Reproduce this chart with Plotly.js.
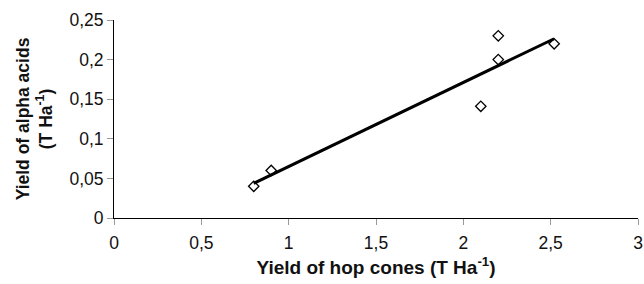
<!DOCTYPE html>
<html>
<head>
<meta charset="utf-8">
<script src="https://cdn.plot.ly/plotly-3.0.1.min.js"></script>
<style>html,body{margin:0;padding:0;background:#fff;}#chart{width:644px;height:284px;}</style>
</head>
<body>
<div id="chart"></div>
<script>
const hopYield = [0.8, 0.9, 2.1, 2.2, 2.2, 2.52];
const alphaYield = [0.04, 0.06, 0.141, 0.23, 0.2, 0.22];
const xTitle = 'Yield of hop cones (T Ha<sup>-1</sup>)';
const yTitle = 'Yield of alpha acids<br>(T Ha<sup>-1</sup>)';

// least-squares trendline from the data
const n = hopYield.length;
const mx = hopYield.reduce((a, b) => a + b, 0) / n;
const my = alphaYield.reduce((a, b) => a + b, 0) / n;
let sxy = 0, sxx = 0;
for (let i = 0; i < n; i++) { sxy += (hopYield[i] - mx) * (alphaYield[i] - my); sxx += (hopYield[i] - mx) ** 2; }
const slope = sxy / sxx, icpt = my - slope * mx;
const xMin = Math.min(...hopYield), xMax = Math.max(...hopYield);

const fam = 'Liberation Sans, Arial, sans-serif';
const tickFont = {family: fam, size: 17.5, color: '#111'};
const xTitleFont = {family: fam, size: 19, color: '#111', weight: 'bold'};
const yTitleFont = {family: fam, size: 17.5, color: '#111', weight: 'bold'};

Plotly.newPlot('chart', [
  {x: [xMin, xMax], y: [icpt + slope * xMin, icpt + slope * xMax], mode: 'lines',
   line: {color: '#000', width: 3}, hoverinfo: 'skip'},
  {x: hopYield, y: alphaYield, mode: 'markers',
   marker: {symbol: 'diamond-open', size: 8, color: '#000', line: {width: 1.3, color: '#000'}}}
], {
  width: 644, height: 284,
  margin: {l: 114, r: 6, t: 20, b: 66},
  showlegend: false,
  separators: ', ',
  paper_bgcolor: '#fff', plot_bgcolor: '#fff',
  font: tickFont,
  xaxis: {range: [0, 3], dtick: 0.5, tick0: 0, showgrid: false, zeroline: false,
    showline: true, linecolor: '#000', linewidth: 1,
    ticks: 'outside', ticklen: 6, tickcolor: '#999', tickfont: tickFont, ticklabelstandoff: 3,
    title: {text: xTitle, font: xTitleFont, standoff: 8}},
  yaxis: {range: [0, 0.25], dtick: 0.05, tick0: 0, showgrid: false, zeroline: false,
    showline: true, linecolor: '#000', linewidth: 1,
    ticks: 'outside', ticklen: 6, tickcolor: '#999', tickfont: tickFont,
    title: {text: yTitle, font: yTitleFont, standoff: 12}}
}, {displayModeBar: false, staticPlot: true});
</script>
</body>
</html>
